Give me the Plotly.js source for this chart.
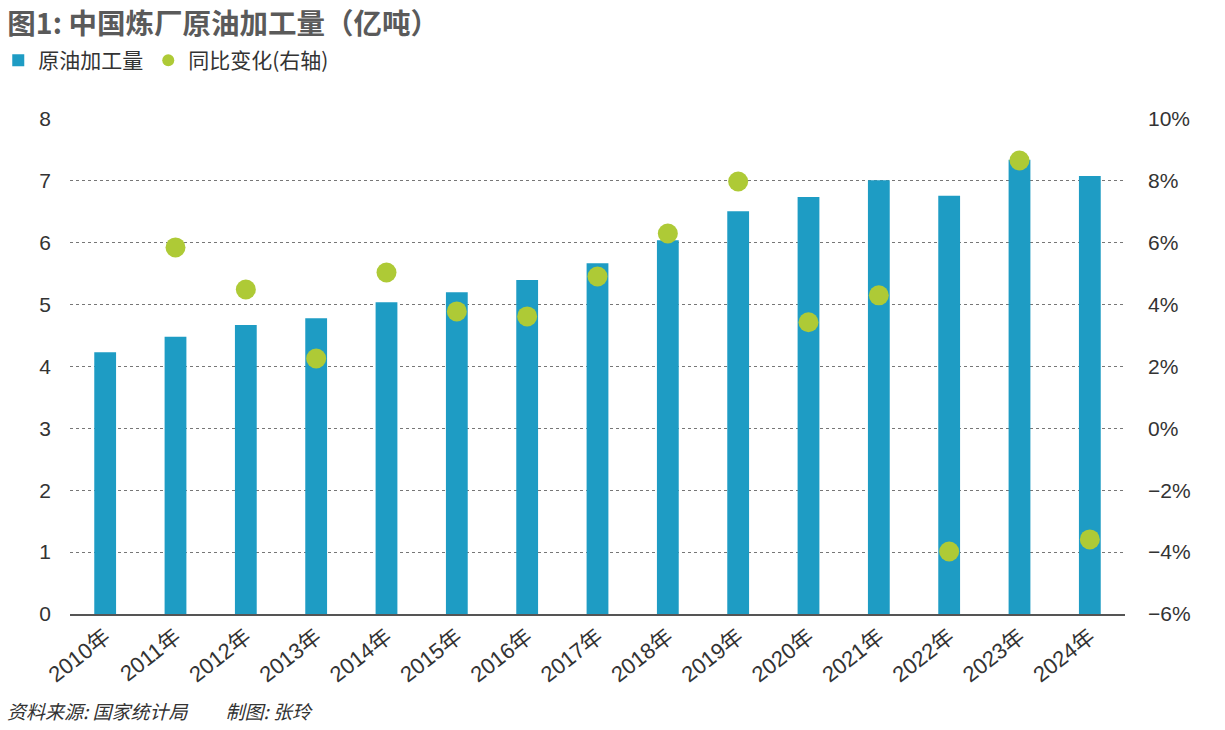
<!DOCTYPE html>
<html><head><meta charset="utf-8">
<script src="https://cdn.plot.ly/plotly-3.0.1.min.js"></script>
<style>html,body{margin:0;padding:0;background:#fff;}#chart{width:1225px;height:730px;}</style>
</head><body><div id="chart"></div>
<script>
const years = ["2010年","2011年","2012年","2013年","2014年","2015年","2016年","2017年","2018年","2019年","2020年","2021年","2022年","2023年","2024年"];
const crudeRuns = [4.23,4.48,4.67,4.78,5.04,5.20,5.40,5.67,6.04,6.51,6.74,7.01,6.76,7.34,7.08];
const yoyChange = [null,5.85,4.49,2.26,5.04,3.78,3.62,4.91,6.30,7.98,3.43,4.30,-3.98,8.66,-3.59];
const leftTicks = [0,1,2,3,4,5,6,7,8];
const rightTicks = [-6,-4,-2,0,2,4,6,8,10];
const rightTickText = ["−6%","−4%","−2%","0%","2%","4%","6%","8%","10%"];

const font = "'Noto Sans CJK SC', 'Liberation Sans', sans-serif";
const data = [
  {type:'bar', x:years, y:crudeRuns, name:'原油加工量', marker:{color:'#1e9cc4'}, width:0.31, yaxis:'y'},
  {type:'scatter', mode:'markers', x:years, y:yoyChange, name:'同比变化(右轴)', marker:{color:'#aeca36', size:20}, yaxis:'y2'}
];
const layout = {
  width:1225, height:730,
  margin:{l:70, r:100, t:119, b:116, autoexpand:false},
  paper_bgcolor:'#fff', plot_bgcolor:'#fff',
  font:{family:font, color:'#333', size:20},
  title:{text:'<b>图1: 中国炼厂原油加工量（亿吨）</b>', x:0.006, xanchor:'left', y:0.967, yanchor:'middle', font:{size:28.5, color:'#5a5a5a', family:font}},
  showlegend:true,
  legend:{orientation:'h', x:-0.068, xanchor:'left', y:1.118, yanchor:'middle', font:{size:21, color:'#333', family:font}, itemsizing:'constant', traceorder:'normal', itemwidth:30},
  xaxis:{type:'category', range:[-0.5,14.5], automargin:false, showgrid:false, showline:true, linecolor:'#555', linewidth:1.5, ticks:'', tickangle:-38, tickfont:{size:22, color:'#333', family:"'Liberation Sans', 'Noto Sans CJK SC', sans-serif"}, zeroline:false},
  yaxis:{range:[0,8], automargin:false, tickvals:leftTicks, showgrid:true, gridcolor:'#777', griddash:'dot', gridwidth:1, zeroline:false, ticks:'', tickfont:{size:21, color:'#333', family:"'Liberation Sans', sans-serif"}, ticklabelstandoff:18},
  yaxis2:{range:[-6,10], automargin:false, overlaying:'y', side:'right', tickvals:rightTicks, ticktext:rightTickText, showgrid:false, zeroline:false, ticks:'', tickfont:{size:21, color:'#333', family:"'Liberation Sans', sans-serif"}, ticklabelstandoff:22},
  annotations:[
    {text:'<i>资料来源: 国家统计局　　制图: 张玲</i>', xref:'paper', yref:'paper', x:-0.062, xanchor:'left', y:-0.194, yanchor:'middle', showarrow:false, font:{size:19, color:'#333', family:font}}
  ]
};
Plotly.newPlot('chart', data, layout, {displayModeBar:false, staticPlot:true});
</script></body></html>
